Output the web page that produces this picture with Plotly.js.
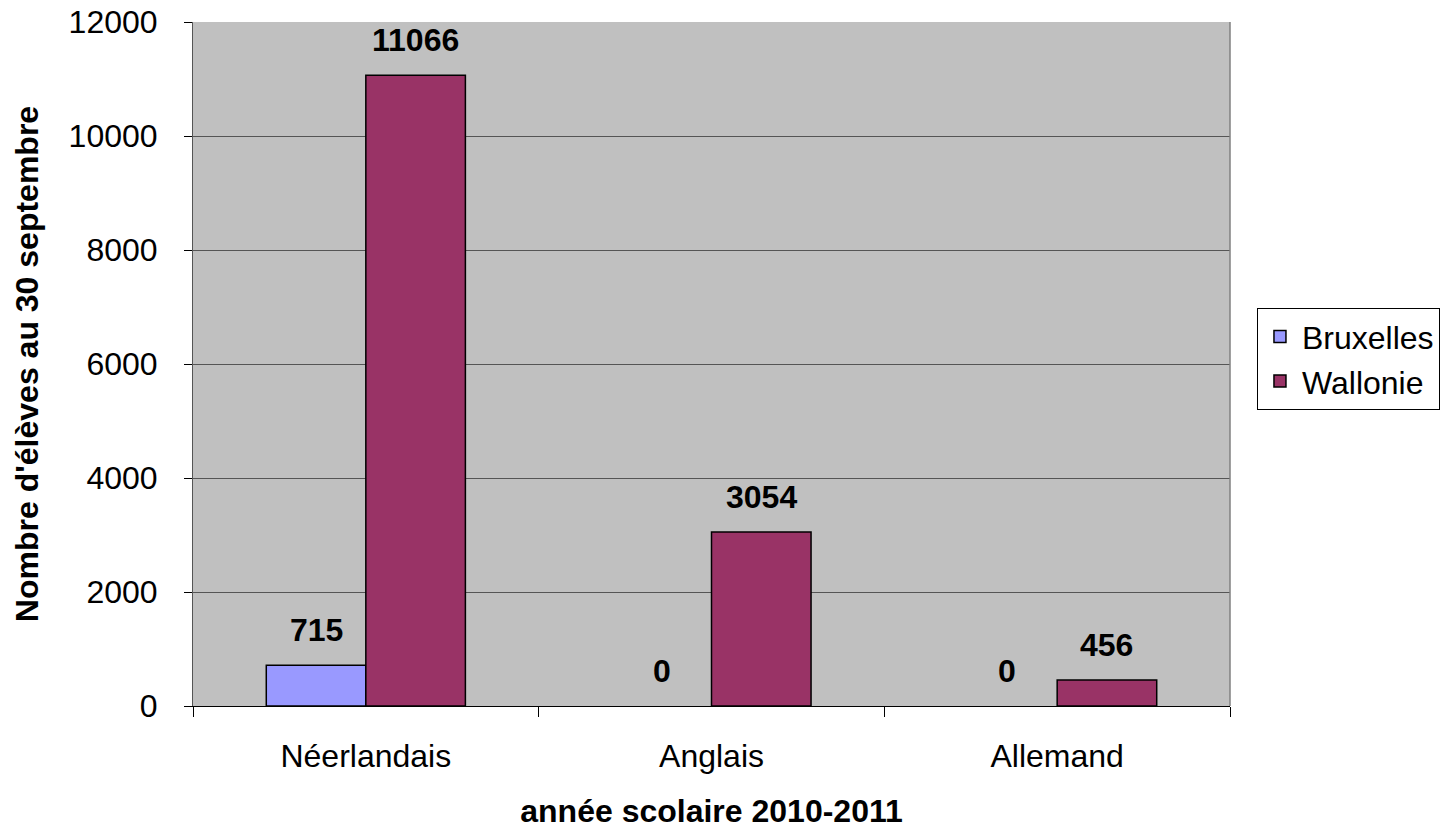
<!DOCTYPE html>
<html><head><meta charset="utf-8">
<script src="https://cdn.plot.ly/plotly-3.0.1.min.js"></script>
<style>html,body{margin:0;padding:0;background:#fff}#chart{width:1449px;height:831px}</style>
</head><body><div id="chart"></div>
<script>
const categories = ["Néerlandais", "Anglais", "Allemand"];
const seriesNames = ["Bruxelles", "Wallonie"];
const bruxelles = [715, 0, 0];
const wallonie = [11066, 3054, 456];
const yTicks = [0, 2000, 4000, 6000, 8000, 10000, 12000];

const FONT = "Liberation Sans, Arial, sans-serif";
const FS = 32;
const bargap = 0.424;
const half = (1 - bargap) / 4;
const lineW = arr => arr.map(v => v === 0 ? 0 : 1.5);

const traces = [
  {type: "bar", name: seriesNames[0], x: categories, y: bruxelles,
   marker: {color: "#9999FF", line: {color: "#000", width: lineW(bruxelles)}}, hoverinfo: "skip"},
  {type: "bar", name: seriesNames[1], x: categories, y: wallonie,
   marker: {color: "#993366", line: {color: "#000", width: lineW(wallonie)}}, hoverinfo: "skip"}
];

const annotations = [];
[bruxelles, wallonie].forEach((arr, s) => {
  arr.forEach((v, i) => {
    annotations.push({x: i + (s === 0 ? -half : half), y: v, xref: "x", yref: "y",
      text: "<b>" + v + "</b>", showarrow: false, yanchor: "bottom", yshift: 15,
      font: {family: FONT, size: FS, color: "#000"}});
  });
});

const layout = {
  width: 1449, height: 831,
  margin: {l: 193, r: 219, t: 22, b: 125, autoexpand: false},
  paper_bgcolor: "#fff", plot_bgcolor: "#C0C0C0",
  barmode: "group", bargap: bargap, bargroupgap: 0,
  font: {family: FONT, size: FS, color: "#000"},
  showlegend: true,
  legend: {x: 1.026, xanchor: "left", y: 0.507, yanchor: "middle",
    bordercolor: "#000", borderwidth: 1, bgcolor: "#fff",
    font: {family: FONT, size: FS, color: "#000"}, tracegroupgap: 0, itemwidth: 34},
  xaxis: {
    type: "category", range: [-0.5, 2.5], tickson: "boundaries",
    ticks: "outside", ticklen: 10, tickcolor: "#000", tickwidth: 1,
    showline: true, linecolor: "#000", linewidth: 1, mirror: false,
    showgrid: false, zeroline: false, ticklabelstandoff: 22,
    tickfont: {family: FONT, size: FS, color: "#000"},
    title: {text: "<b>année scolaire 2010-2011</b>", standoff: 26, font: {family: FONT, size: FS, color: "#000"}}
  },
  yaxis: {
    range: [0, 12000], tickvals: yTicks, ticktext: yTicks.map(String),
    ticks: "outside", ticklen: 8, tickcolor: "#000", tickwidth: 1,
    showline: true, linecolor: "#555", linewidth: 1,
    showgrid: true, gridcolor: "#555", gridwidth: 1, zeroline: false,
    ticklabelstandoff: 20,
    tickfont: {family: FONT, size: FS, color: "#000"},
    title: {text: "<b>Nombre d'élèves au 30 septembre</b>", standoff: 20, font: {family: FONT, size: FS, color: "#000"}}
  },
  shapes: [
    {type: "line", xref: "paper", yref: "paper", x0: 1, x1: 1, y0: 0, y1: 1, line: {color: "#808080", width: 1.5}}
  ],
  annotations: annotations
};

Plotly.newPlot("chart", traces, layout, {displayModeBar: false, staticPlot: true});
</script></body></html>
